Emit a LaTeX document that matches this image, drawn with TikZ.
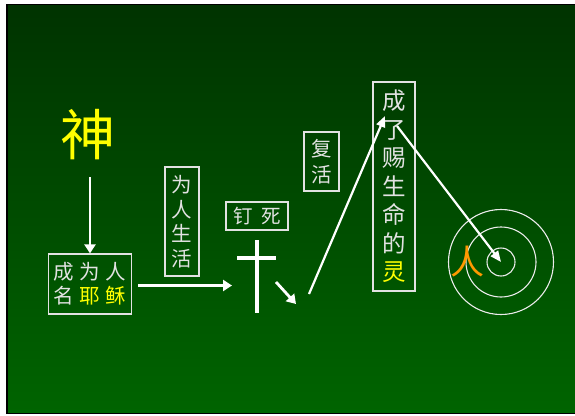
\documentclass[tikz,border=0pt]{standalone}
\usepackage{fontspec}
\setmainfont{Noto Sans CJK SC}
\usetikzlibrary{arrows.meta}
\definecolor{txt}{HTML}{E2E2E2}
\definecolor{yel}{HTML}{FFFF00}
\definecolor{orn}{HTML}{FF9900}
\definecolor{gtop}{HTML}{003300}
\definecolor{gbot}{HTML}{006400}
\begin{document}
\begin{tikzpicture}[x=1pt,y=-1pt,
  lbl/.style={draw=txt, line width=1.2pt, text=txt, inner sep=0pt, align=center},
  arr/.style={-{Triangle[length=9pt,width=11pt]}, white, line width=2.8pt},
  thinarr/.style={-{Triangle[length=11pt,width=9pt]}, white, line width=2.2pt},
  ring/.style={draw=white!92!black, line width=1.1pt, circle, inner sep=0pt},
  crossbar/.style={white, line width=4pt}]
\useasboundingbox (0,0) rectangle (575,415);
\fill[white] (0,0) rectangle (575,415);
\fill[black] (6,4) rectangle (575,414);
\shade[top color=gtop, bottom color=gbot] (8,5.5) rectangle (575,412.5);
% nodes
\node[text=yel, font=\fontsize{55}{55}\selectfont] (god) at (88,135) {神};
\node[lbl, minimum width=83pt, minimum height=60pt, font=\fontsize{20.5}{24}\selectfont] (jesus) at (90,284)
  {成\hspace{5.5pt}为\hspace{5.5pt}人\\名\hspace{5.5pt}\textcolor{yel}{耶}\hspace{5.5pt}\textcolor{yel}{稣}};
\node[lbl, minimum width=34pt, minimum height=109pt, font=\fontsize{20.5}{24.5}\selectfont] (live) at (182,221.5) {为\\人\\生\\活};
\node[lbl, minimum width=62pt, minimum height=28pt, font=\fontsize{19.5}{19.5}\selectfont] (nail) at (257,216) {钉\hspace{8.5pt}死};
\node[lbl, minimum width=35pt, minimum height=59pt, font=\fontsize{20.5}{26}\selectfont] (rise) at (321.5,161.5) {复\\活};
\node[lbl, minimum width=42pt, minimum height=209pt, font=\fontsize{23.5}{28.5}\selectfont] (spirit) at (394,186.5)
  {成\\了\\赐\\生\\命\\的\\\textcolor{yel}{灵}};
\node[ring, minimum size=28pt] (r1) at (501,262) {};
\node[ring, minimum size=70pt] (r2) at (501,262) {};
\node[ring, minimum size=105pt] (r3) at (501,262) {};
\node[text=orn, font=\fontsize{34}{34}\selectfont] (man) at (467,262) {人};
% cross
\draw[crossbar] (257,240) -- (257,313);
\draw[crossbar] (237,258) -- (276,258);
% connectors
\coordinate (a1s) at (90,177);
\draw[arr] (a1s) -- (jesus.north);
\coordinate (a2s) at (138,285.5);
\coordinate (a2e) at (232,285.5);
\draw[arr] (a2s) -- (a2e);
\coordinate (a3s) at (276,282);
\coordinate (a3e) at (296,304);
\draw[arr] (a3s) -- (a3e);
\coordinate (a4s) at (309,294);
\coordinate (a4e) at (385,116);
\draw[thinarr] (a4s) -- (a4e);
\coordinate (a5s) at (397,126);
\draw[thinarr] (a5s) -- (r1.center);
\end{tikzpicture}
\end{document}
